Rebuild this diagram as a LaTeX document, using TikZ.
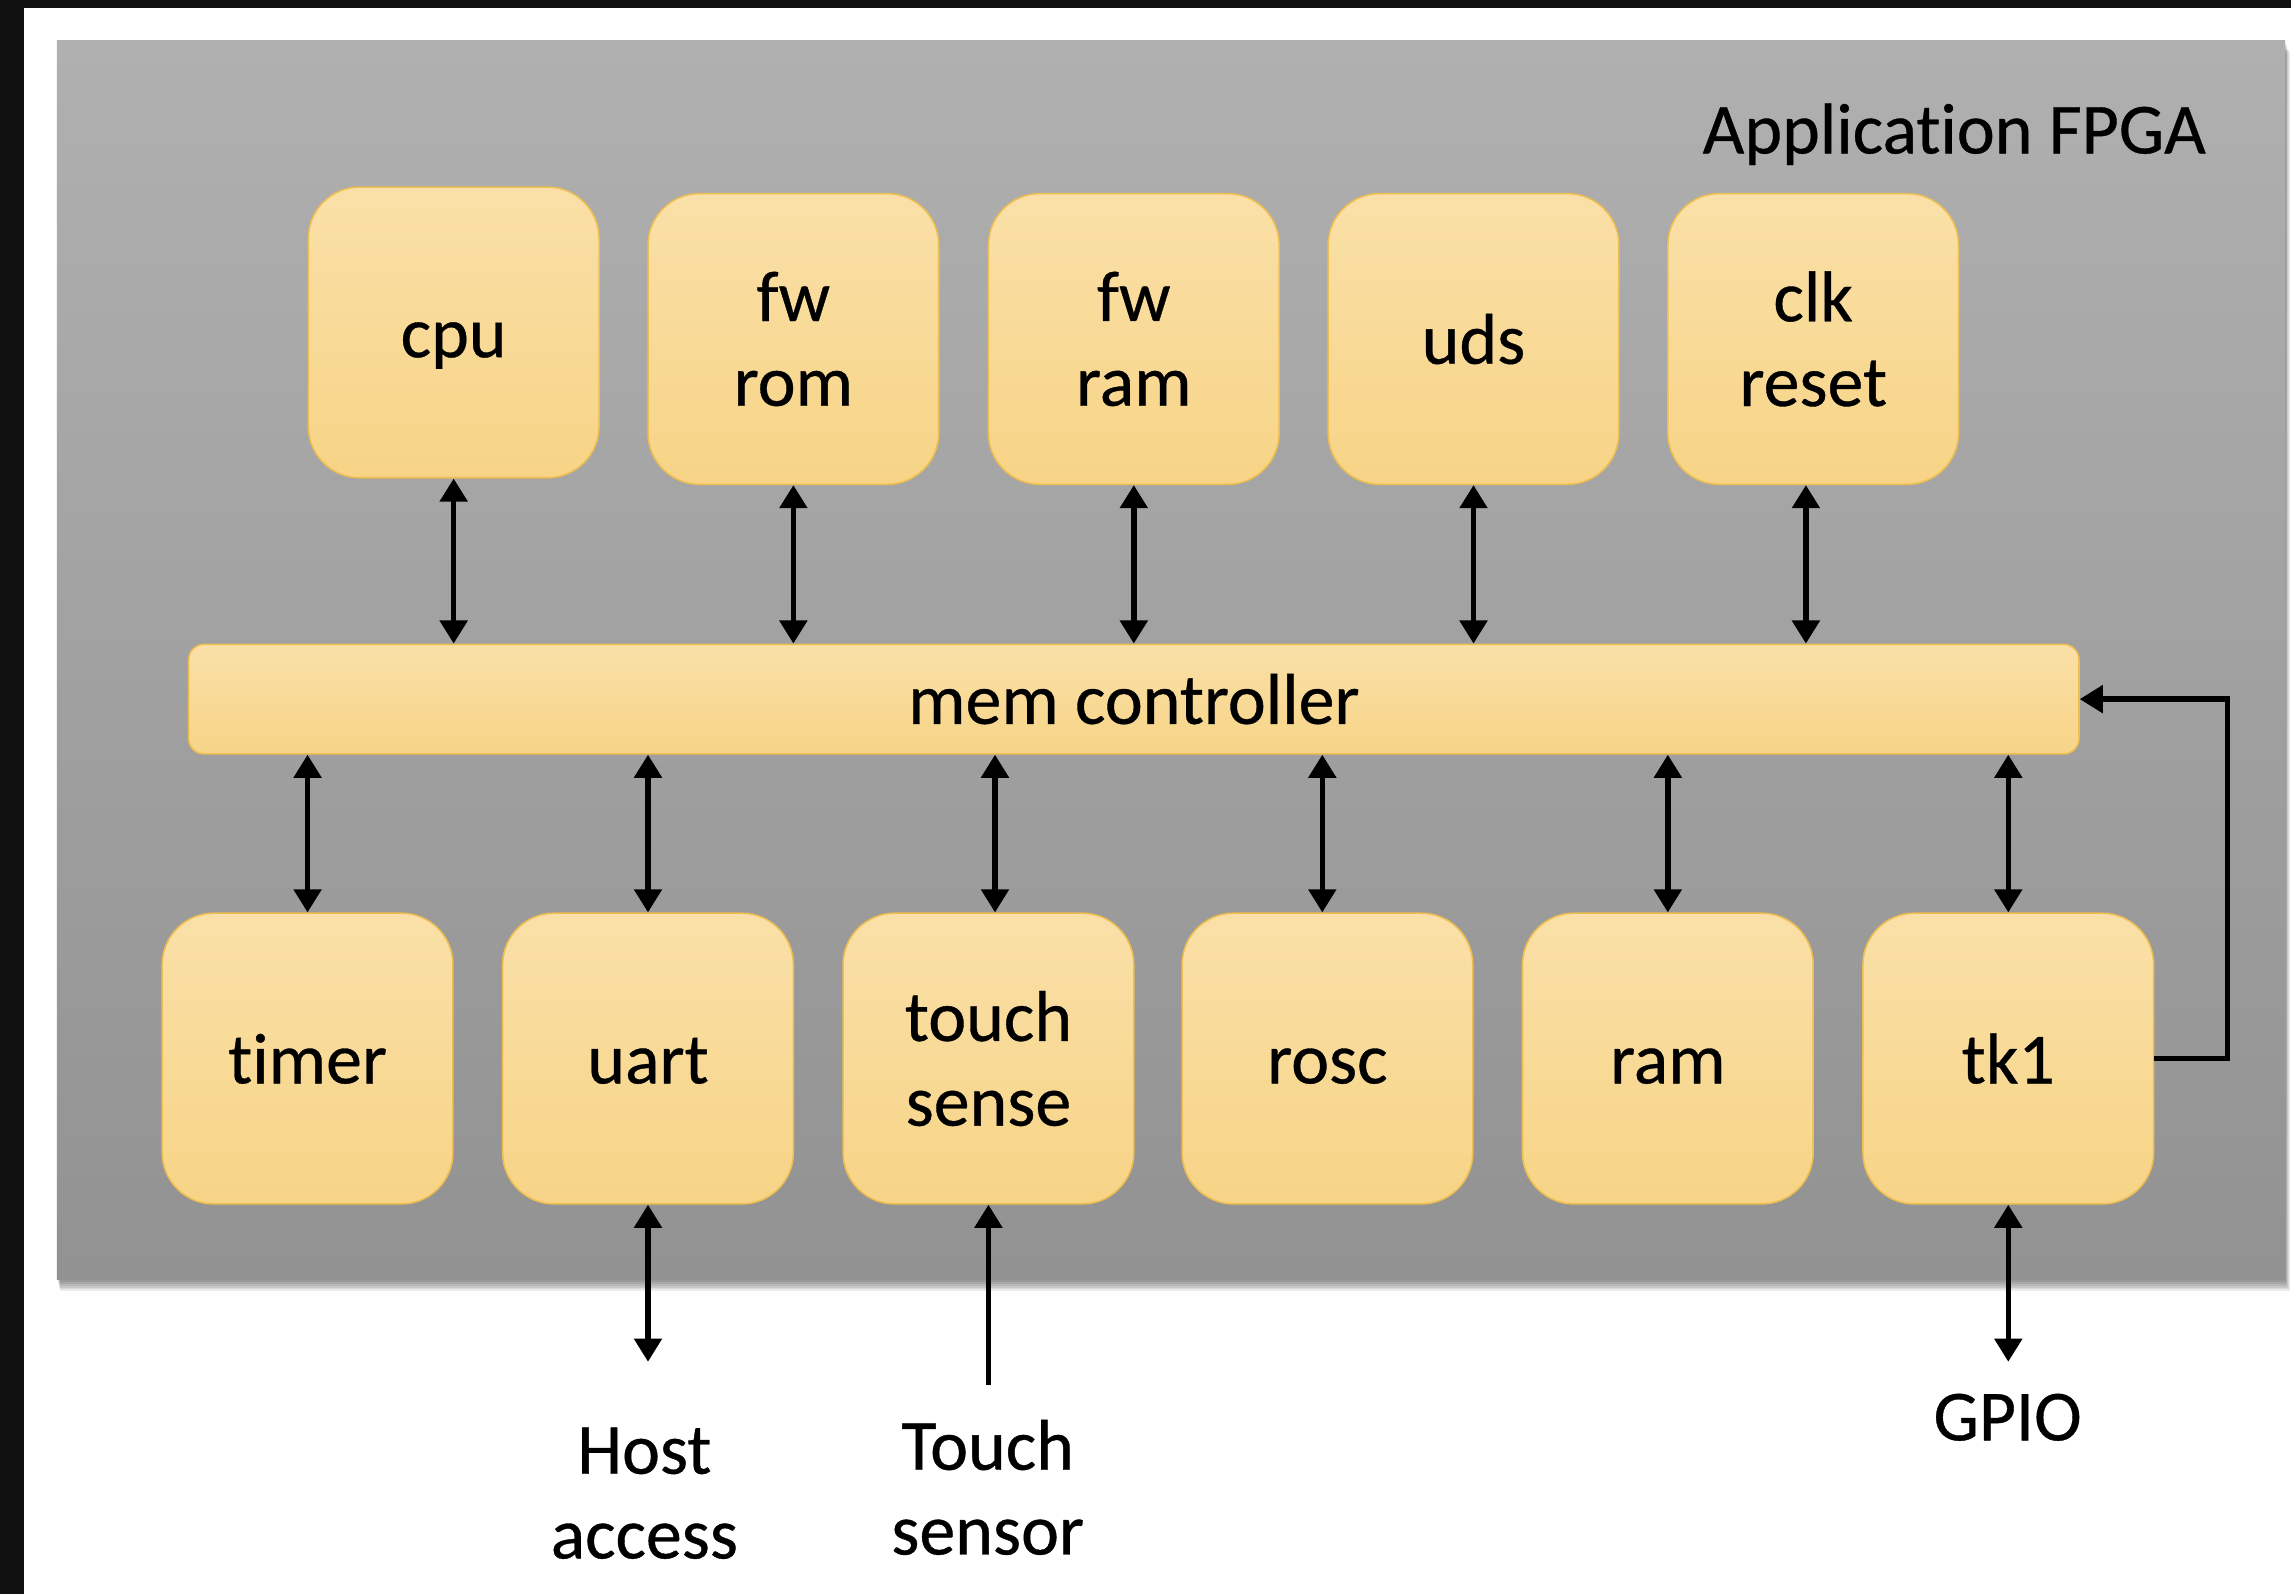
\documentclass[tikz,border=0pt]{standalone}
\usepackage{fontspec}
\setmainfont[FakeBold=0.5,Ligatures={NoCommon,NoContextual}]{Carlito}
\usetikzlibrary{arrows.meta}

\definecolor{panelTop}{RGB}{176,176,176}
\definecolor{panelBot}{RGB}{146,146,146}
\definecolor{blockTop}{RGB}{250,224,168}
\definecolor{blockBot}{RGB}{247,212,134}
\definecolor{blockLine}{RGB}{238,190,80}
\definecolor{frameDark}{RGB}{17,17,17}

\newcommand{\diagfont}{\fontsize{28}{33}\selectfont}

\tikzset{
  block/.style={draw=blockLine,line width=0.6pt,top color=blockTop,bottom color=blockBot,
    rounded corners=20pt,minimum width=3.98cm,minimum height=3.98cm,align=center,inner sep=0pt},
  oneline/.style={block,text height=19.3pt,text depth=0pt},
  bar/.style={draw=blockLine,line width=0.6pt,top color=blockTop,bottom color=blockBot,
    rounded corners=6pt,minimum width=25.88cm,minimum height=1.5cm,inner sep=0pt},
  link/.style={line width=2.1pt,<->},
  feed/.style={line width=2.1pt,->},
  outside/.style={align=center},
}

\begin{document}
\begin{tikzpicture}[x=0.02cm,y=-0.02cm,font=\diagfont,
    >={Triangle[width=10.5pt,length=9pt]}]
  \useasboundingbox (0,0) rectangle (1568,1091);
  % frame and board
  \fill[white] (0,0) rectangle (1568,1091);
  \fill[frameDark] (0,0) rectangle (1568,5.5);
  \fill[frameDark] (0,0) rectangle (16.5,1091);
  \foreach \d in {1,...,6}
    \fill[black,opacity=0.08] (39+0.4*\d,28+1.3*\d) rectangle (1564+0.5*\d,876+1.3*\d);
  \shade[top color=panelTop,bottom color=panelBot] (39,28) rectangle (1564,876);
  \node[anchor=base east] (fpga) at (1516,105) {Application FPGA};

  % upper row
  \node[oneline] (cpu) at (310.5,227.5) {cpu};
  \node[block] (fwrom) at (543,232) {fw\\rom};
  \node[block] (fwram) at (776,232) {fw\\ram};
  \node[oneline] (uds) at (1008.5,232) {uds};
  \node[block] (clk) at (1241,232) {clk\\reset};

  \node[bar] (mem) at (776,478.5) {mem controller};

  % lower row
  \node[oneline] (timer) at (210.5,724.5) {timer};
  \node[oneline] (uart) at (443.5,724.5) {uart};
  \node[block] (touch) at (676.5,724.5) {touch\\sense};
  \node[oneline] (rosc) at (908.5,724.5) {rosc};
  \node[oneline] (ram) at (1141.5,724.5) {ram};
  \node[oneline] (tk) at (1374.5,724.5) {tk1};

  \foreach \b in {cpu,fwrom,fwram,uds}
    \draw[link] (\b.south) -- (\b.south |- mem.north);
  \draw[link] ([xshift=-0.1cm]clk.south) -- ([xshift=-0.1cm]clk.south |- mem.north);
  \foreach \b in {timer,uart,ram,tk}
    \draw[link] (\b.north) -- (\b.north |- mem.south);
  \draw[link] ([xshift=0.09cm]touch.north) -- ([xshift=0.09cm]touch.north |- mem.south);
  \draw[link] ([xshift=-0.07cm]rosc.north) -- ([xshift=-0.07cm]rosc.north |- mem.south);
  \draw[feed] (tk.east) -- ++(50,0) |- (mem.east);

  % outside world
  \coordinate (hostend) at (443.5,932);
  \coordinate (touchend) at (676.5,948);
  \coordinate (gpioend) at (1374.5,932);
  \draw[link] (uart.south) -- (hostend);
  \draw[feed] (touchend) -- (touch.south);
  \draw[link] (tk.south) -- (gpioend);
  \node[outside] (host) at (441,1022) {Host\\access};
  \node[outside] (sensor) at (676,1018) {Touch\\sensor};
  \node[outside] (gpio) at (1374,970) {GPIO};
\end{tikzpicture}
\end{document}
